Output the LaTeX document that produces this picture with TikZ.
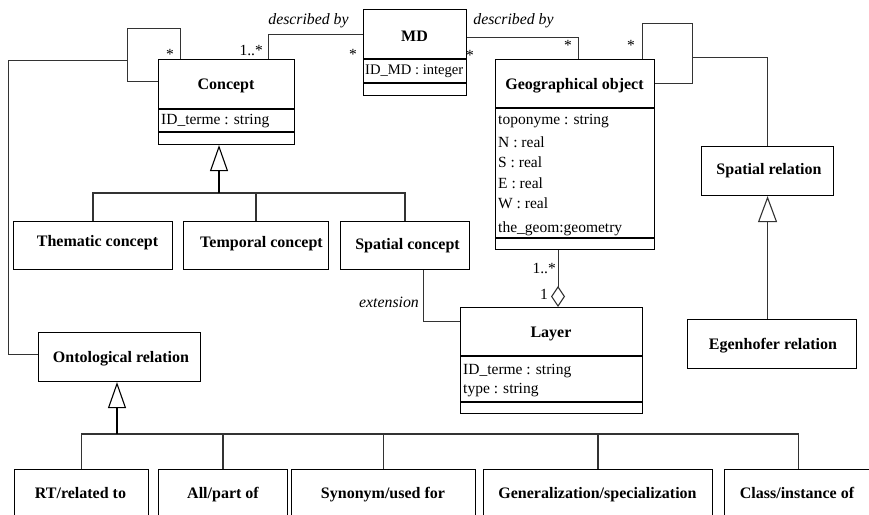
\documentclass[tikz,border=0pt]{standalone}
\usepackage{fontspec}
\setmainfont{Liberation Serif}
\newfontfamily\umlfont{Liberation Serif}
\usetikzlibrary{arrows.meta,calc}

\tikzset{
  txt/.style={font=\umlfont\fontsize{15.5}{18}\selectfont, inner sep=0pt},
  box/.style={draw=black, line width=1.1pt, rectangle, inner sep=0pt, anchor=north west},
  title/.style={txt, font=\umlfont\fontsize{16}{18}\selectfont\bfseries, anchor=base},
  attr/.style={txt, anchor=base west},
  role/.style={txt, font=\umlfont\fontsize{15.8}{18}\selectfont\itshape, anchor=base},
  mult/.style={txt, anchor=base east},
  starmark/.style={txt, anchor=base},
  link/.style={draw=black!80, line width=1pt},
  thickrule/.style={draw=black, line width=2.4pt},
  thinrule/.style={draw=black, line width=1.1pt},
  inherit/.style={draw=black, line width=2pt,
    -{Triangle[open, length=26pt, width=18pt, line width=1.1pt]}},
  inheritthin/.style={draw=black!80, line width=1pt,
    -{Triangle[open, length=26pt, width=19pt, line width=1.1pt]}},
  aggr/.style={draw=black!80, line width=1pt,
    -{Diamond[open, length=21pt, width=14pt, line width=1.1pt]}},
}

\begin{document}
\begin{tikzpicture}[x=1pt, y=-1pt]
\useasboundingbox (0,0) rectangle (869,514);
\fill[white] (0,0) rectangle (869,514);
\clip (0,0) rectangle (869,514);

% ---- class boxes ----
\node[box, minimum width=103pt, minimum height=86pt]  (md)      at (363,9)   {};
\node[box, minimum width=136pt, minimum height=85pt]  (concept) at (158,59)  {};
\node[box, minimum width=159pt, minimum height=190pt] (geo)     at (495,59)  {};
\node[box, minimum width=182pt, minimum height=106pt] (layer)   at (460,307) {};
\node[box, minimum width=132pt, minimum height=49pt]  (srel)    at (701,146) {};
\node[box, minimum width=169pt, minimum height=49pt]  (egen)    at (687,319) {};
\node[box, minimum width=159pt, minimum height=48pt]  (thema)   at (13,221)  {};
\node[box, minimum width=145pt, minimum height=48pt]  (tempo)   at (183,221) {};
\node[box, minimum width=129pt, minimum height=48pt]  (spcon)   at (340,221) {};
\node[box, minimum width=162pt, minimum height=49pt]  (onto)    at (38,332)  {};
\node[box, minimum width=134pt, minimum height=60pt]  (rt)      at (14,469)  {};
\node[box, minimum width=129pt, minimum height=60pt]  (allpart) at (158,469) {};
\node[box, minimum width=184pt, minimum height=60pt]  (syno)    at (291,469) {};
\node[box, minimum width=229pt, minimum height=60pt]  (genspec) at (483,469) {};
\node[box, minimum width=148pt, minimum height=60pt]  (classin) at (724,469) {};

% ---- compartment rules ----
\draw[thickrule] ($(md.north west)+(0,50)$) -- ($(md.north east)+(0,50)$);
\draw[thinrule]  ($(md.north west)+(0,74)$) -- ($(md.north east)+(0,74)$);
\draw[thickrule] ($(concept.north west)+(0,50)$) -- ($(concept.north east)+(0,50)$);
\draw[thinrule]  ($(concept.north west)+(0,73)$) -- ($(concept.north east)+(0,73)$);
\draw[thickrule] ($(geo.north west)+(0,49)$) -- ($(geo.north east)+(0,49)$);
\draw[thinrule]  ($(geo.north west)+(0,179)$) -- ($(geo.north east)+(0,179)$);
\draw[thickrule] ($(layer.north west)+(0,49)$) -- ($(layer.north east)+(0,49)$);
\draw[thinrule]  ($(layer.north west)+(0,95)$) -- ($(layer.north east)+(0,95)$);

% ---- class names and attributes ----
\node[title] (mdname) at (414.5,41) {MD};
\node[attr, font=\umlfont\fontsize{14.6}{18}\selectfont] (mdid) at (365,74) {ID\_MD : integer};

\node[title] (conname) at (226,89) {Concept};
\node[attr]  (conid)   at (161,124) {ID\_terme : string};

\node[title] (geoname) at (574.5,89) {Geographical object};
\node[attr] (geoa1) at (498,124) {toponyme : string};
\node[attr] (geoa2) at (498,147) {N : real};
\node[attr] (geoa3) at (498,167) {S : real};
\node[attr] (geoa4) at (498,188) {E : real};
\node[attr] (geoa5) at (498,208) {W : real};
\node[attr] (geoa6) at (498,232) {the\_geom:geometry};

\node[title] (layname) at (551,337) {Layer};
\node[attr]  (laya1)   at (463,374) {ID\_terme : string};
\node[attr]  (laya2)   at (463,393) {type : string};

\node[title] (srelname)  at (769,174)   {Spatial relation};
\node[title] (egenname)  at (773,349)   {Egenhofer relation};
\node[title] (themaname) at (97.5,246)  {Thematic concept};
\node[title] (temponame) at (261.5,247) {Temporal concept};
\node[title] (spconname) at (407.5,249) {Spatial concept};
\node[title] (ontoname)  at (121,362)   {Ontological relation};
\node[title] (rtname)    at (80.5,498)  {RT/related to};
\node[title] (apname)    at (223,498)   {All/part of};
\node[title] (synname)   at (383,498)   {Synonym/used for};
\node[title] (gsname)    at (597.5,498) {Generalization/specialization};
\node[title] (ciname)    at (797,498)   {Class/instance of};

% ---- associations ----
% MD described-by links
\draw[link] ($(md.north west)+(0,25)$) -| ($(concept.north west)+(110,0)$);
\draw[link] ($(md.north east)+(0,28)$) -| ($(geo.north west)+(83,0)$);

% reflexive association on Concept, and its link to Ontological relation
\coordinate (cloop) at (127,28);
\coordinate (cjoin) at (127,60);
\draw[link] ($(concept.north west)+(22,0)$) |- (cloop) |- ($(concept.north west)+(0,22)$);
\draw[link] (cjoin) -| (8,354) -- ($(onto.north west)+(0,22)$);

% reflexive association on Geographical object, and its link to Spatial relation
\coordinate (gloop) at (692,23);
\coordinate (gjoin) at (692,57);
\draw[link] ($(geo.north west)+(147,0)$) |- (gloop) |- ($(geo.north east)+(0,24)$);
\draw[link] (gjoin) -| (srel.north);

% aggregation Geographical object -> Layer
\draw[aggr] ($(geo.south west)+(63,0)$) -- ($(layer.north west)+(98,0)$);

% extension Spatial concept -> Layer
\draw[link] ($(spcon.south west)+(83,0)$) |- ($(layer.north west)+(0,14)$);

% ---- generalizations ----
\coordinate (cbr) at (219,193);
\draw[link, line width=1.2pt] (thema.north) |- (cbr) -| (spcon.north);
\draw[link, line width=1.2pt] (tempo.north) -- (tempo.north |- cbr);
\draw[inherit] (cbr) -- ($(concept.south west)+(61,0)$);

\coordinate (obr) at (117,434);
\draw[link, line width=1.2pt] (rt.north) |- (obr) -| (classin.north);
\draw[link, line width=1.2pt] (allpart.north) -- (allpart.north |- obr);
\draw[link, line width=1.2pt] (syno.north) -- (syno.north |- obr);
\draw[link, line width=1.2pt] (genspec.north) -- (genspec.north |- obr);
\draw[inherit] (obr) -- ($(onto.south west)+(79,0)$);

\draw[inheritthin] (srel.south |- egen.north) -- (srel.south);

% ---- role names and multiplicities ----
\node[role] (rl1) at (308.5,24) {described by};
\node[role] (rl2) at (513.5,24) {described by};
\node[role] (rl3) at (389,307)  {extension};

\node[mult] (m1) at (263,55)  {1..*};
\node[mult] (m2) at (556,273) {1..*};
\node[mult] (m3) at (548,299) {1};

\node[starmark] (s1) at (170,59.5) {*};
\node[starmark] (s2) at (353,59.5) {*};
\node[starmark] (s3) at (470,60.5) {*};
\node[starmark] (s4) at (568,50.5) {*};
\node[starmark] (s5) at (631,50.5) {*};
\end{tikzpicture}
\end{document}
